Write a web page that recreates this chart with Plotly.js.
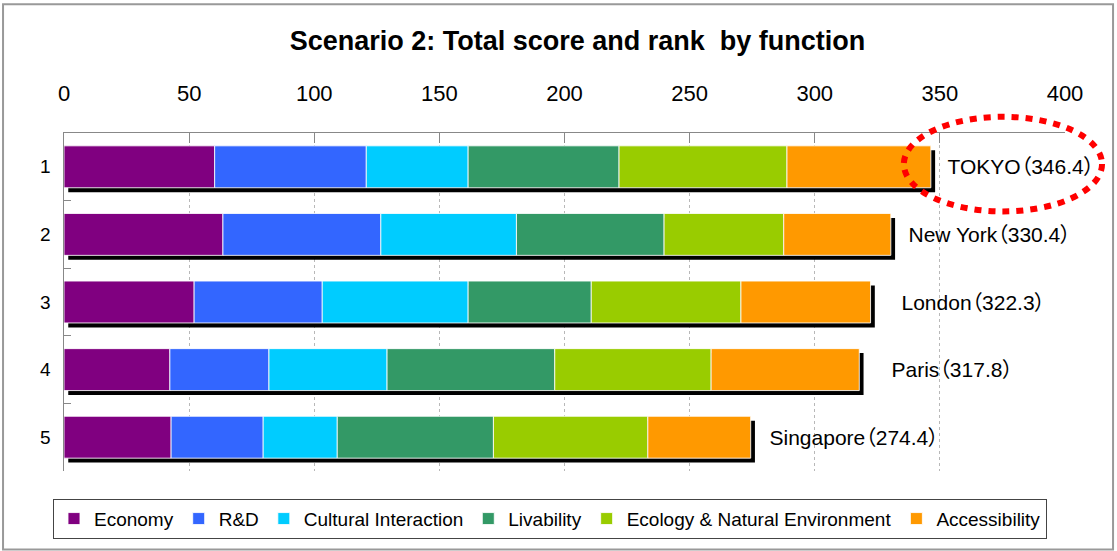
<!DOCTYPE html>
<html>
<head>
<meta charset="utf-8">
<script src="https://cdn.plot.ly/plotly-3.0.1.min.js"></script>
<style>
html,body{margin:0;padding:0;background:#fff;}
#chart{width:1117px;height:551px;}
#chart svg text{font-feature-settings:"palt" 1;}
</style>
</head>
<body>
<div id="chart"></div>
<script>
// ---- data ----
const ranks = ['1', '2', '3', '4', '5'];
const cities = ['TOKYO', 'New York', 'London', 'Paris', 'Singapore'];
const totals = [346.4, 330.4, 322.3, 317.8, 274.4];
const seriesNames = ['Economy', 'R&D', 'Cultural Interaction', 'Livability', 'Ecology & Natural Environment', 'Accessibility'];
const economy      = [60.2, 63.5, 52.0, 42.3, 42.8];
const rnd          = [60.6, 63.1, 51.2, 39.6, 36.8];
const cultural     = [40.7, 54.2, 58.3, 47.2, 29.6];
const livability   = [60.3, 59.0, 49.2, 67.0, 62.4];
const ecology      = [67.1, 47.8, 59.8, 62.5, 61.7];
const accessibility= [57.5, 42.8, 51.8, 59.2, 41.1];
const xTicks = [0, 50, 100, 150, 200, 250, 300, 350, 400];

// ---- style ----
const colors = ['#800080', '#3366FF', '#00CCFF', '#339966', '#99CC00', '#FF9900'];
const FONT = 'Arial, "Liberation Sans", "Noto Sans CJK JP", sans-serif';
const barW = 0.62;
const labelShift = [4, 5, 18, 20, 6];

const seriesVals = [economy, rnd, cultural, livability, ecology, accessibility];
const traces = [];

// drop shadow (black bars of totals, offset right/down)
traces.push({
  type: 'bar', orientation: 'h', y: ranks, x: totals,
  base: 1.7, width: barW, offset: -barW / 2 + 0.066,
  marker: { color: '#000' }, showlegend: false, hoverinfo: 'skip'
});

const cum = ranks.map(() => 0);
seriesVals.forEach((vals, i) => {
  traces.push({
    type: 'bar', orientation: 'h', name: seriesNames[i],
    y: ranks, x: vals, base: cum.slice(), width: barW,
    marker: { color: colors[i], line: { color: 'rgba(255,255,255,0.85)', width: 1 } }
  });
  vals.forEach((v, k) => cum[k] += v);
});

const annotations = cities.map((c, i) => ({
  x: totals[i], y: i, xref: 'x', yref: 'y',
  text: c + '（' + totals[i].toFixed(1) + '）',
  showarrow: false, xanchor: 'left', yanchor: 'middle', xshift: labelShift[i],
  font: { family: FONT, size: 21, color: '#000' }
}));

const layout = {
  width: 1117, height: 551,
  margin: { l: 64, r: 52, t: 133, b: 77 },
  paper_bgcolor: '#fff', plot_bgcolor: '#fff',
  barmode: 'overlay',
  title: {
    text: '<b>Scenario 2: Total score and rank  by function</b>',
    font: { family: FONT, size: 27, color: '#000' },
    xref: 'container', yref: 'container', x: 0.517, y: 0.9256,
    xanchor: 'center', yanchor: 'middle'
  },
  xaxis: {
    side: 'top', range: [0, 400], tickvals: xTicks, ticktext: xTicks.map(String),
    showgrid: true, gridcolor: '#b8b8b8', griddash: 'dot', gridwidth: 1,
    ticks: 'inside', ticklen: 10, tickcolor: '#888', tickwidth: 1,
    showline: true, linecolor: '#888', linewidth: 1.5, zeroline: false,
    tickfont: { family: FONT, size: 22, color: '#000' },
    ticklabelstandoff: 22, fixedrange: true
  },
  yaxis: {
    type: 'category', categoryorder: 'array', categoryarray: ranks,
    autorange: 'reversed', showgrid: false, zeroline: false,
    showline: true, linecolor: '#888', linewidth: 1.5,
    ticks: 'inside', tickson: 'boundaries', ticklen: 7, tickcolor: '#888',
    tickfont: { family: FONT, size: 19, color: '#000' },
    ticklabelstandoff: 8, fixedrange: true
  },
  showlegend: true,
  legend: {
    orientation: 'h', x: -0.011, y: -0.082, xanchor: 'left', yanchor: 'top',
    bordercolor: '#444', borderwidth: 1, bgcolor: '#fff',
    font: { family: FONT, size: 19, color: '#000' },
    traceorder: 'normal', itemclick: false, itemdoubleclick: false
  },
  annotations: annotations,
  shapes: [
    { type: 'rect', xref: 'paper', yref: 'paper', x0: -0.0609, x1: 1.048, y0: -0.232, y1: 1.381,
      line: { color: '#999', width: 2 }, fillcolor: 'rgba(0,0,0,0)', layer: 'below' },
    { type: 'circle', xref: 'paper', yref: 'paper', x0: 0.839, x1: 1.037, y0: 0.768, y1: 1.048,
      line: { color: '#FF0000', width: 6, dash: '7px,7px' }, fillcolor: 'rgba(0,0,0,0)', layer: 'above' }
  ]
};

Plotly.newPlot('chart', traces, layout, { displayModeBar: false, staticPlot: true });
</script>
</body>
</html>
